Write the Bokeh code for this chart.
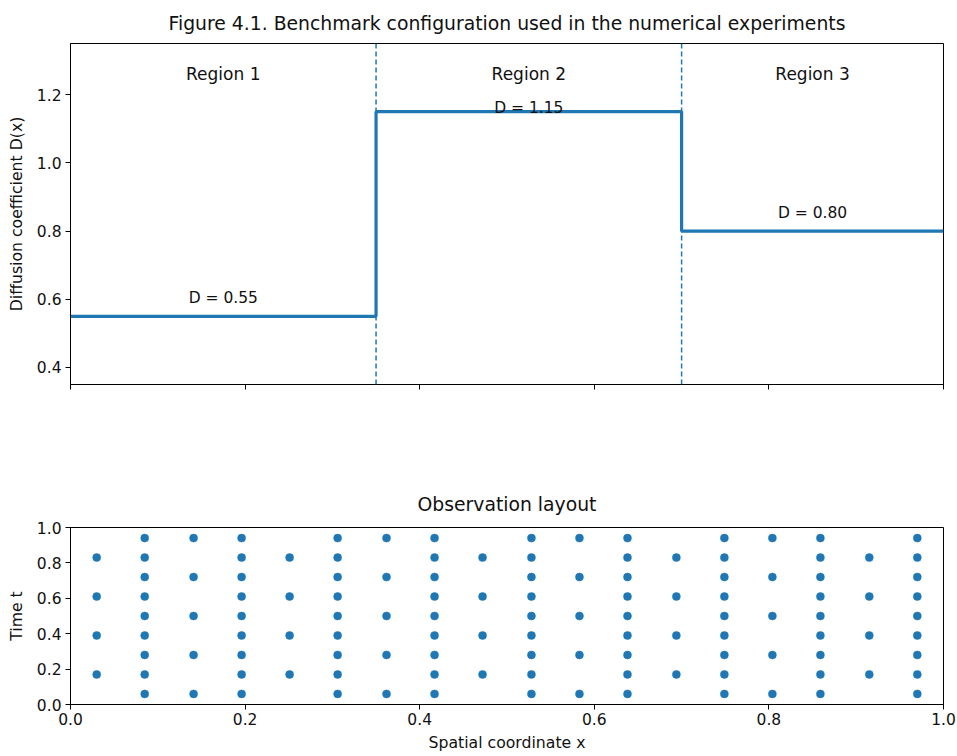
from bokeh.plotting import figure
from bokeh.models import FixedTicker, ColumnDataSource, Span, Range1d
from bokeh.layouts import column
from bokeh.embed import file_html
from bokeh.resources import INLINE
from bokeh.core.properties import value

FONT = "DejaVu Sans"
BLUE = "#1f77b4"

# ---------------- data ----------------
suptitle = "Figure 4.1. Benchmark configuration used in the numerical experiments"
subtitle = "Observation layout"
region_names = ["Region 1", "Region 2", "Region 3"]
region_edges = [0.0, 0.35, 0.70, 1.0]
region_D = [0.55, 1.15, 0.80]
d_labels = ["D = 0.55", "D = 1.15", "D = 0.80"]
interfaces = [0.35, 0.70]

top_yticks = [0.4, 0.6, 0.8, 1.0, 1.2]
top_ytick_labels = ["0.4", "0.6", "0.8", "1.0", "1.2"]
x_ticks = [0.0, 0.2, 0.4, 0.6, 0.8, 1.0]
x_tick_labels = ["0.0", "0.2", "0.4", "0.6", "0.8", "1.0"]
t_ticks = [0.0, 0.2, 0.4, 0.6, 0.8, 1.0]
t_tick_labels = ["0.0", "0.2", "0.4", "0.6", "0.8", "1.0"]

obs_columns_x = [0.030, 0.085, 0.141, 0.196, 0.251, 0.306, 0.362, 0.417, 0.472,
                 0.528, 0.583, 0.638, 0.694, 0.749, 0.804, 0.859, 0.915, 0.970]
obs_times_by_column = [
    [0.17, 0.39, 0.61, 0.83],
    [0.06, 0.17, 0.28, 0.39, 0.50, 0.61, 0.72, 0.83, 0.94],
    [0.06, 0.28, 0.50, 0.72, 0.94],
    [0.06, 0.17, 0.28, 0.39, 0.50, 0.61, 0.72, 0.83, 0.94],
    [0.17, 0.39, 0.61, 0.83],
    [0.06, 0.17, 0.28, 0.39, 0.50, 0.61, 0.72, 0.83, 0.94],
    [0.06, 0.28, 0.50, 0.72, 0.94],
    [0.06, 0.17, 0.28, 0.39, 0.50, 0.61, 0.72, 0.83, 0.94],
    [0.17, 0.39, 0.61, 0.83],
    [0.06, 0.17, 0.28, 0.39, 0.50, 0.61, 0.72, 0.83, 0.94],
    [0.06, 0.28, 0.50, 0.72, 0.94],
    [0.06, 0.17, 0.28, 0.39, 0.50, 0.61, 0.72, 0.83, 0.94],
    [0.17, 0.39, 0.61, 0.83],
    [0.06, 0.17, 0.28, 0.39, 0.50, 0.61, 0.72, 0.83, 0.94],
    [0.06, 0.28, 0.50, 0.72, 0.94],
    [0.06, 0.17, 0.28, 0.39, 0.50, 0.61, 0.72, 0.83, 0.94],
    [0.17, 0.39, 0.61, 0.83],
    [0.06, 0.17, 0.28, 0.39, 0.50, 0.61, 0.72, 0.83, 0.94],
]

# ---------------- helpers ----------------
def style_axes(p, title_standoff):
    for ax in (p.xaxis[0], p.yaxis[0]):
        ax.axis_line_color = "black"
        ax.axis_line_width = 1
        ax.major_tick_line_color = "black"
        ax.major_tick_line_width = 1
        ax.major_tick_out = 5
        ax.major_tick_in = 0
        ax.minor_tick_line_color = None
        ax.major_label_text_font = FONT
        ax.major_label_text_font_size = "15.5px"
        ax.major_label_text_color = "#111111"
        ax.major_label_standoff = 4
        ax.axis_label_text_font = FONT
        ax.axis_label_text_font_size = "15.7px"
        ax.axis_label_text_font_style = "normal"
        ax.axis_label_text_color = "#111111"
    p.outline_line_color = "black"
    p.outline_line_width = 1
    p.outline_line_alpha = 1
    p.xgrid.visible = False
    p.ygrid.visible = False
    p.title.align = "center"
    p.title.text_font = FONT
    p.title.text_font_size = "18.8px"
    p.title.text_font_style = "normal"
    p.title.text_color = "#111111"
    p.title.standoff = title_standoff


# ---------------- top panel ----------------
p1 = figure(width=957, height=404, frame_width=873, frame_height=341,
            output_backend="svg", toolbar_location=None,
            x_range=Range1d(0, 1), y_range=Range1d(0.35, 1.35),
            title=suptitle,
            min_border_left=70, min_border_right=14, min_border_top=43, min_border_bottom=20)
style_axes(p1, 20)
p1.xaxis.ticker = FixedTicker(ticks=x_ticks)
p1.xaxis.major_label_overrides = {t: "" for t in x_ticks}
p1.yaxis.ticker = FixedTicker(ticks=top_yticks)
p1.yaxis.major_label_overrides = dict(zip(top_yticks, top_ytick_labels))
p1.yaxis.axis_label = "Diffusion coefficient D(x)"
p1.yaxis.axis_label_standoff = 8

for xi in interfaces:
    p1.add_layout(Span(location=xi, dimension="height", line_color=BLUE,
                       line_width=1.5, line_dash="5 3"))

p1.step(x=region_edges, y=region_D + [region_D[-1]], mode="after",
        line_color=BLUE, line_width=3.2)

centers = [(region_edges[i] + region_edges[i + 1]) / 2 for i in range(len(region_names))]
region_src = ColumnDataSource(dict(x=centers, y=[1.262] * len(centers), text=region_names))
p1.text(x="x", y="y", text="text", source=region_src, text_font=value(FONT),
        text_font_size=value("17px"), text_align="center", text_baseline="middle",
        text_color="#111111")

label_y = [min(d + 0.053, 1.162) for d in region_D]
d_src = ColumnDataSource(dict(x=centers, y=label_y, text=d_labels))
p1.text(x="x", y="y", text="text", source=d_src, text_font=value(FONT),
        text_font_size=value("15.5px"), text_align="center", text_baseline="middle",
        text_color="#111111")

# ---------------- bottom panel ----------------
obs_x = []
obs_t = []
for cx, times in zip(obs_columns_x, obs_times_by_column):
    for tt in times:
        obs_x.append(cx)
        obs_t.append(tt)

p2 = figure(width=957, height=352, frame_width=873, frame_height=177,
            output_backend="svg", toolbar_location=None,
            x_range=Range1d(0, 1), y_range=Range1d(0, 1),
            title=subtitle,
            min_border_left=70, min_border_right=14, min_border_top=123, min_border_bottom=52)
style_axes(p2, 26)
p2.xaxis.ticker = FixedTicker(ticks=x_ticks)
p2.xaxis.major_label_overrides = dict(zip(x_ticks, x_tick_labels))
p2.yaxis.ticker = FixedTicker(ticks=t_ticks)
p2.yaxis.major_label_overrides = dict(zip(t_ticks, t_tick_labels))
p2.xaxis.axis_label = "Spatial coordinate x"
p2.yaxis.axis_label = "Time t"
p2.yaxis.axis_label_standoff = 8
p2.xaxis.axis_label_standoff = 5
p2.xaxis.major_label_standoff = 3

p2.scatter(x=obs_x, y=obs_t, size=8, fill_color=BLUE, line_color=BLUE, line_width=0.5)

layout = column(p1, p2, spacing=0)
open("out.html", "w").write(file_html(layout, INLINE))
